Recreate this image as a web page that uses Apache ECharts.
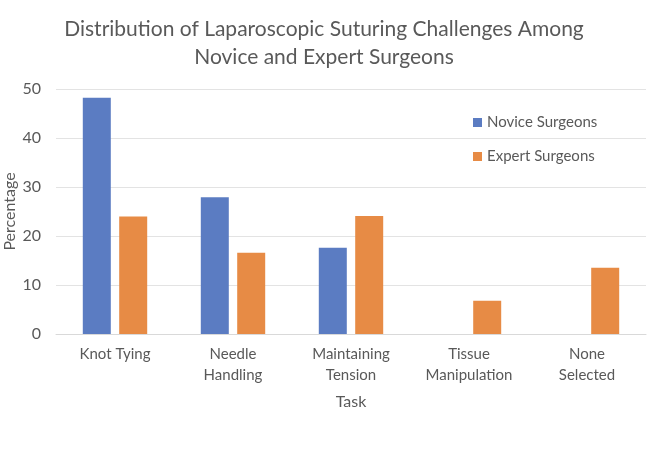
<!DOCTYPE html>
<html>
<head>
<meta charset="utf-8">
<script src="https://cdn.jsdelivr.net/npm/echarts@6/dist/echarts.min.js"></script>
<style>
  html, body { margin: 0; padding: 0; background: #fff; }
  #chart { width: 669px; height: 452px; }
</style>
</head>
<body>
<div id="chart"></div>
<script>
var tasks = ['Knot Tying', 'Needle\nHandling', 'Maintaining\nTension', 'Tissue\nManipulation', 'None\nSelected'];
var novice = [48.2, 27.9, 17.6, 0, 0];
var expert = [24.0, 16.6, 24.1, 6.8, 13.5];
var yTicks = [0, 10, 20, 30, 40, 50];

var myChart = echarts.init(document.getElementById('chart'));
var textColor = '#595959';
var font = 'Lato';

var option = {
  backgroundColor: '#ffffff',
  textStyle: { fontFamily: font },
  title: {
    text: 'Distribution of Laparoscopic Suturing Challenges Among\nNovice and Expert Surgeons',
    left: 319,
    top: 10,
    textAlign: 'center',
    textStyle: {
      fontFamily: font,
      fontSize: 21,
      fontWeight: 'normal',
      color: textColor,
      lineHeight: 28
    }
  },
  legend: {
    orient: 'vertical',
    left: 468,
    top: 110,
    itemGap: 19,
    itemWidth: 9,
    itemHeight: 9,
    icon: 'rect',
    textStyle: { fontFamily: font, fontSize: 15, color: textColor },
    data: ['Novice Surgeons', 'Expert Surgeons']
  },
  grid: {
    left: 56,
    right: 23,
    top: 89,
    bottom: 118,
    containLabel: false,
    outerBoundsMode: 'none'
  },
  xAxis: {
    type: 'category',
    data: tasks,
    name: 'Task',
    nameLocation: 'middle',
    nameGap: 60,
    nameMoveOverlap: false,
    nameTextStyle: { fontFamily: font, fontSize: 16, color: textColor },
    axisLine: { show: true, lineStyle: { color: '#d9d9d9' } },
    axisTick: { show: false },
    axisLabel: { fontFamily: font, fontSize: 15, color: textColor, lineHeight: 21, margin: 10, interval: 0 }
  },
  yAxis: {
    type: 'value',
    min: yTicks[0],
    max: yTicks[yTicks.length - 1],
    interval: 10,
    name: 'Percentage',
    nameLocation: 'middle',
    nameGap: 38,
    nameRotate: 90,
    nameMoveOverlap: false,
    nameTextStyle: { fontFamily: font, fontSize: 16, color: textColor },
    axisLine: { show: false },
    axisTick: { show: false },
    axisLabel: { fontFamily: font, fontSize: 16, color: textColor, margin: 15 },
    splitLine: { lineStyle: { color: '#e3e3e3' } }
  },
  series: [
    {
      name: 'Novice Surgeons',
      type: 'bar',
      data: novice,
      barWidth: 28,
      barGap: '30%',
      itemStyle: { color: '#5b7cc2' }
    },
    {
      name: 'Expert Surgeons',
      type: 'bar',
      data: expert,
      barWidth: 28,
      itemStyle: { color: '#e78b45' }
    }
  ]
};

myChart.setOption(option);
</script>
</body>
</html>
